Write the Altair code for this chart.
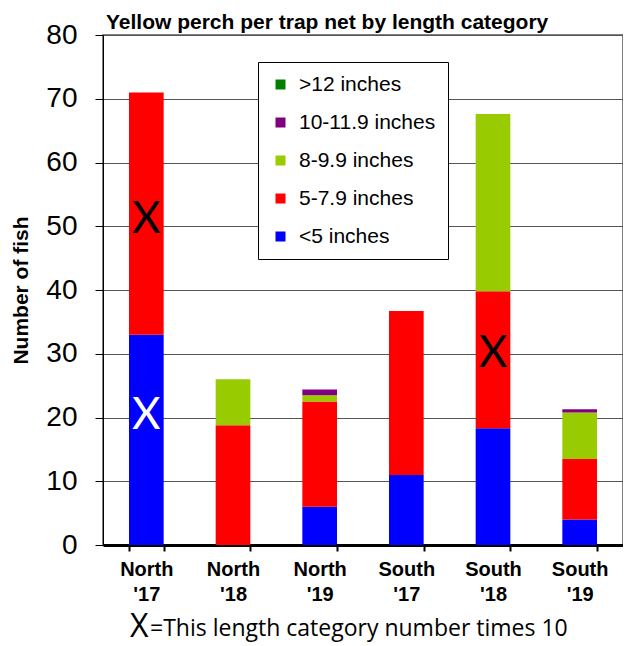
import altair as alt
import pandas as pd

categories = ["North '17", "North '18", "North '19", "South '17", "South '18", "South '19"]
size_classes = [">12 inches", "10-11.9 inches", "8-9.9 inches", "5-7.9 inches", "<5 inches"]
class_colors = ["#008000", "#800080", "#99CC00", "#FF0000", "#0000FF"]

lt5 = [33.0, 0.0, 6.0, 11.0, 18.3, 4.0]
s5_7 = [38.0, 18.8, 16.5, 25.7, 21.5, 9.5]
s8_9 = [0.0, 7.2, 1.0, 0.0, 27.8, 7.3]
s10_11 = [0.0, 0.0, 0.9, 0.0, 0.0, 0.5]
gt12 = [0.0, 0.0, 0.0, 0.0, 0.0, 0.0]

marker_cats = ["North '17", "North '17", "South '18"]
marker_vals = [49.0, 18.2, 28.0]
marker_colors = ["black", "white", "black"]

title_text = "Yellow perch per trap net by length category"
caption_mark = "X"
caption_text = "=This length category number times 10"

series = {
    "<5 inches": lt5,
    "5-7.9 inches": s5_7,
    "8-9.9 inches": s8_9,
    "10-11.9 inches": s10_11,
    ">12 inches": gt12,
}
stack_order = ["<5 inches", "5-7.9 inches", "8-9.9 inches", "10-11.9 inches", ">12 inches"]

rows = []
for cls, vals in series.items():
    for c, v in zip(categories, vals):
        rows.append({"site": c, "cls": cls, "n": v, "ord": stack_order.index(cls)})
df = pd.DataFrame(rows)

mk = pd.DataFrame({"site": marker_cats, "v": marker_vals, "col": marker_colors})

FONT = "Liberation Sans"

x_enc = alt.X(
    "site:N",
    sort=categories,
    scale=alt.Scale(paddingInner=0.6, paddingOuter=0.3),
    axis=alt.Axis(
        title=None,
        labelAngle=0,
        labelExpr="split(datum.label, ' ')",
        labelFont=FONT,
        labelFontSize=20,
        labelFontWeight="bold",
        labelColor="black",
        labelLineHeight=25,
        labelPadding=8,
        labelBaseline="top",
        tickBand="extent",
        tickSize=6,
        tickWidth=2,
        tickColor="black",
        domainColor="black",
        domainWidth=3,
        grid=False,
    ),
)

bars = alt.Chart(df).mark_bar().encode(
    x=x_enc,
    y=alt.Y(
        "n:Q",
        stack="zero",
        scale=alt.Scale(domain=[0, 80], nice=False),
        axis=alt.Axis(
            title="Number of fish",
            titleFont=FONT,
            titleFontSize=21,
            titleFontWeight="bold",
            titleColor="black",
            titlePadding=14,
            values=[0, 10, 20, 30, 40, 50, 60, 70, 80],
            labelFont=FONT,
            labelFontSize=28,
            labelColor="black",
            labelPadding=18,
            tickSize=8,
            tickColor="black",
            domainColor="black",
            domainWidth=1,
            grid=True,
            gridColor="#555555",
            gridWidth=1,
        ),
    ),
    color=alt.Color(
        "cls:N",
        scale=alt.Scale(domain=size_classes, range=class_colors),
        legend=alt.Legend(
            title=None,
            orient="none",
            legendX=155,
            legendY=27,
            direction="vertical",
            symbolType="square",
            symbolSize=100,
            symbolStrokeWidth=0,
            labelFont=FONT,
            labelFontSize=21,
            labelColor="black",
            labelOffset=8,
            rowPadding=16,
            padding=12,
            fillColor="white",
            strokeColor="black",
        ),
    ),
    order=alt.Order("ord:Q", sort="ascending"),
)

markers = alt.Chart(mk).mark_text(
    font="Lato", fontSize=44, baseline="alphabetic", align="center"
).encode(
    x=alt.X("site:N", sort=categories),
    y=alt.Y("v:Q"),
    text=alt.value("X"),
    color=alt.Color("col:N", scale=None),
)

one = pd.DataFrame({"a": [1]})
title_mark = alt.Chart(one).mark_text(
    font=FONT, fontSize=21, fontWeight="bold", align="left", baseline="alphabetic", color="black"
).encode(x=alt.value(3), y=alt.value(-6), text=alt.value(title_text))
cap_x = alt.Chart(one).mark_text(
    font="Open Sans", fontSize=32, align="left", baseline="alphabetic", color="black"
).encode(x=alt.value(27), y=alt.value(602), text=alt.value(caption_mark))
cap_t = alt.Chart(one).mark_text(
    font="Open Sans", fontSize=23, align="left", baseline="alphabetic", color="black"
).encode(x=alt.value(47), y=alt.value(601), text=alt.value(caption_text))

chart = (
    alt.layer(bars, markers, title_mark, cap_x, cap_t)
    .properties(
        width=520,
        height=510,
        padding={"left": 95, "top": 27, "right": 0, "bottom": 101},
        autosize=alt.AutoSizeParams(type="none"),
    )
    .configure_view(stroke="#555555", strokeWidth=1.5)
)

chart.save("out.html", embed_options={"renderer": "svg", "actions": False})
